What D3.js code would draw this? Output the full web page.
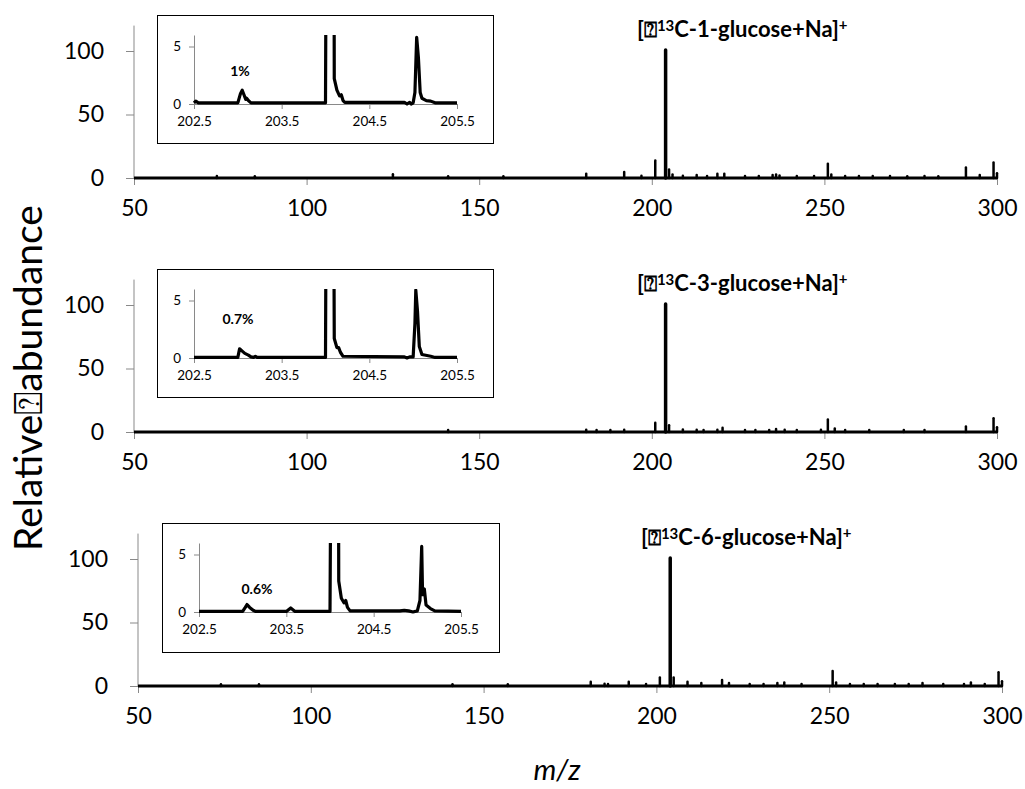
<!DOCTYPE html>
<html>
<head>
<meta charset="utf-8">
<script src="https://cdn.jsdelivr.net/npm/d3@7"></script>
<style>
  body { margin: 0; background: #fff; }
  svg text { font-family: Lato, "Open Sans", sans-serif; fill: #000; }
</style>
</head>
<body>
<svg id="chart" width="1025" height="789"></svg>
<script>
// tick values
var mainTicks = [50, 100, 150, 200, 250, 300];
var mainYTicks = [0, 50, 100];
var insetTicks = [202.5, 203.5, 204.5, 205.5];
var insetYTicks = [0, 5];

// titles / labels
var positions = ["1", "3", "6"];
var insetLabels = ["1%", "0.7%", "0.6%"];

// full spectra, peak m/z and relative abundance
var peaks1Mz  = [74, 85, 125, 141, 157, 181, 192, 197, 201, 204, 205, 206, 209, 213, 216, 219, 221, 227, 231, 235, 236, 237, 242, 247, 251, 252, 256, 260, 264, 269, 274, 279, 283, 291, 295, 299, 300];
var peaks1Int = [0.8, 0.6, 2.2, 0.6, 0.6, 2.5, 4, 1, 13, 100, 6, 2, 1, 1.5, 0.8, 2.5, 2.5, 0.8, 0.8, 1.5, 2, 1.2, 0.8, 0.8, 10.5, 2, 0.8, 0.8, 0.8, 0.8, 0.6, 0.8, 0.6, 7.5, 1.5, 11.5, 3];

var peaks2Mz  = [141, 181, 184, 188, 192, 201, 204, 205, 209, 213, 215, 219, 220.5, 227, 230, 234, 236, 238.5, 242, 249, 251, 253, 256, 263, 273, 279, 291, 299, 300];
var peaks2Int = [0.8, 1, 0.8, 0.8, 1, 6.5, 100, 4.5, 1.2, 1, 0.8, 1, 2.5, 0.8, 0.8, 0.8, 1.5, 1, 0.8, 1, 9, 2, 0.8, 0.8, 0.8, 0.8, 3.5, 10, 3];

var peaks3Mz  = [74, 85, 141, 157, 181, 185, 186, 192, 197, 201, 204, 205, 209, 213, 219, 221, 227, 231, 235, 237, 242, 251, 252, 256, 260, 264, 269, 273, 277, 283, 289, 291, 295, 299, 300];
var peaks3Int = [0.6, 0.6, 0.6, 0.5, 2.5, 1, 0.8, 2.5, 0.8, 6, 100, 6, 2.5, 1.5, 4, 1.5, 0.8, 0.8, 1.5, 2, 0.8, 11, 2, 0.8, 0.8, 0.8, 0.8, 0.8, 1.5, 0.8, 0.8, 2, 0.8, 10, 3];

// zoomed profiles 202.5 - 205.5
var inset1Mz  = [202.5, 202.52, 202.55, 203.0, 203.03, 203.05, 203.07, 203.09, 203.1, 203.12, 203.15, 204.0, 204.02, 204.05, 204.09, 204.1, 204.13, 204.16, 204.18, 204.2, 204.22, 204.9, 204.93, 204.96, 204.98, 205.0, 205.02, 205.04, 205.06, 205.08, 205.1, 205.15, 205.2, 205.25, 205.5];
var inset1Val = [0.1, 0.25, 0.1, 0.1, 0.9, 1.2, 0.8, 0.4, 0.5, 0.3, 0.1, 0.1, 40, 100, 40, 2.2, 1.2, 0.7, 0.8, 0.3, 0.15, 0.15, 0.0, 0.15, 0.0, 0.1, 1, 5.8, 4, 1, 0.5, 0.3, 0.25, 0.1, 0.1];

var inset2Mz  = [202.5, 203.0, 203.02, 203.05, 203.08, 203.12, 203.15, 203.18, 203.2, 203.22, 204.0, 204.02, 204.05, 204.08, 204.1, 204.13, 204.15, 204.17, 204.2, 204.9, 204.93, 204.96, 205.0, 205.02, 205.03, 205.05, 205.07, 205.1, 205.2, 205.25, 205.5];
var inset2Val = [0.05, 0.05, 0.8, 0.6, 0.4, 0.25, 0.1, 0.05, 0.15, 0.05, 0.05, 40, 100, 40, 1.7, 0.9, 0.9, 0.5, 0.15, 0.1, 0.0, 0.1, 0.1, 3, 5.9, 4, 1, 0.3, 0.15, 0.05, 0.05];

var inset3Mz  = [202.5, 203.0, 203.03, 203.05, 203.08, 203.12, 203.15, 203.5, 203.55, 203.6, 204.0, 204.03, 204.06, 204.09, 204.1, 204.13, 204.16, 204.18, 204.2, 204.23, 204.8, 204.85, 204.9, 204.95, 205.0, 205.03, 205.05, 205.06, 205.08, 205.1, 205.15, 205.2, 205.5];
var inset3Val = [0.05, 0.05, 0.4, 0.65, 0.4, 0.15, 0.05, 0.05, 0.35, 0.05, 0.05, 40, 100, 40, 2.7, 1.2, 0.8, 1.0, 0.4, 0.1, 0.1, 0.15, 0.1, 0.0, 0.1, 1, 5.7, 1.5, 2, 0.6, 0.3, 0.1, 0.05];

var axisGrey = "#898989";

var panels = [
  {axisY: 178, x0: 134, x1: 997, mz: peaks1Mz, val: peaks1Int,
   box: [157, 15, 493, 143], ix: [194, 457], iy: [104, 35],
   imz: inset1Mz, ival: inset1Val, lab: [240, 71], titleX: 637},
  {axisY: 432, x0: 134, x1: 997, mz: peaks2Mz, val: peaks2Int,
   box: [157, 269, 493, 397], ix: [194, 457], iy: [358, 289],
   imz: inset2Mz, ival: inset2Val, lab: [238, 319], titleX: 637},
  {axisY: 686, x0: 138, x1: 1002, mz: peaks3Mz, val: peaks3Int,
   box: [162, 523, 499, 652], ix: [199, 461], iy: [612, 543],
   imz: inset3Mz, ival: inset3Val, lab: [257, 589], titleX: 641}
];

var svg = d3.select("#chart");

panels.forEach(function(p, i) {
  var g = svg.append("g");

  var x = d3.scaleLinear().domain([50, 300]).range([p.x0, p.x1]);
  var y = d3.scaleLinear().domain([0, 100]).range([p.axisY, p.axisY - 127]);

  // y axis
  var yAxis = g.append("g")
    .attr("transform", "translate(" + p.x0 + ",0)")
    .call(d3.axisLeft(y).tickValues(mainYTicks).tickSize(8).tickPadding(22)
      .tickFormat(d3.format("d")));
  yAxis.select(".domain").attr("d", "M0," + y(0) + "V" + y(120));

  // x axis
  var xAxis = g.append("g")
    .attr("transform", "translate(0," + p.axisY + ")")
    .call(d3.axisBottom(x).tickValues(mainTicks).tickSize(7).tickSizeOuter(0).tickPadding(15));

  [yAxis, xAxis].forEach(function(a) {
    a.selectAll("path, line").attr("stroke", axisGrey);
    a.selectAll("text").style("font-size", "23px").attr("fill", "#000");
  });

  // baseline + peaks
  g.append("line")
    .attr("x1", x(50)).attr("x2", x(300))
    .attr("y1", y(0)).attr("y2", y(0))
    .attr("stroke", "#000").attr("stroke-width", 3);

  g.selectAll(".peak").data(d3.zip(p.mz, p.val)).enter()
    .append("line")
    .attr("class", "peak")
    .attr("x1", function(d) { return x(d[0]); })
    .attr("x2", function(d) { return x(d[0]); })
    .attr("y1", y(0))
    .attr("y2", function(d) { return y(d[1]) - 1; })
    .attr("stroke", "#000")
    .attr("stroke-width", function(d) { return d[1] > 50 ? 3.5 : 2.5; })
    .attr("stroke-linecap", "round");

  // title
  var t = g.append("text")
    .attr("x", p.titleX).attr("y", p.axisY - 141)
    .style("font-size", "22px").style("font-weight", "bold");
  t.append("tspan").text("[\u2370");
  t.append("tspan").text("13").style("font-size", "15px").attr("dy", -6);
  t.append("tspan").text("C-" + positions[i] + "-glucose+Na]").attr("dy", 6);
  t.append("tspan").text("+").style("font-size", "15px").attr("dy", -7);

  // inset
  var b = p.box;
  g.append("rect")
    .attr("x", b[0] + 0.5).attr("y", b[1] + 0.5)
    .attr("width", b[2] - b[0]).attr("height", b[3] - b[1])
    .attr("fill", "#fff").attr("stroke", "#000").attr("stroke-width", 1);

  var ix = d3.scaleLinear().domain([202.5, 205.5]).range(p.ix);
  var iy = d3.scaleLinear().domain([0, 6]).range(p.iy);

  var iyAxis = g.append("g")
    .attr("transform", "translate(" + p.ix[0] + ",0)")
    .call(d3.axisLeft(iy).tickValues(insetYTicks).tickSize(5).tickSizeOuter(0).tickPadding(8)
      .tickFormat(d3.format("d")));
  var ixAxis = g.append("g")
    .attr("transform", "translate(0," + p.iy[0] + ")")
    .call(d3.axisBottom(ix).tickValues(insetTicks).tickSize(5).tickSizeOuter(0).tickPadding(7)
      .tickFormat(d3.format(".1f")));
  [iyAxis, ixAxis].forEach(function(a) {
    a.selectAll("path, line").attr("stroke", axisGrey);
    a.selectAll("text").style("font-size", "13.5px").attr("fill", "#000");
  });

  var clipId = "clip" + i;
  svg.append("clipPath").attr("id", clipId)
    .append("rect")
    .attr("x", p.ix[0] - 3).attr("y", p.iy[1])
    .attr("width", p.ix[1] - p.ix[0] + 6).attr("height", p.iy[0] - p.iy[1] + 3);

  var line = d3.line()
    .x(function(d) { return ix(d[0]); })
    .y(function(d) { return iy(d[1]); });

  g.append("path")
    .datum(d3.zip(p.imz, p.ival))
    .attr("clip-path", "url(#" + clipId + ")")
    .attr("d", line)
    .attr("fill", "none")
    .attr("stroke", "#000")
    .attr("stroke-width", 3.2)
    .attr("stroke-linejoin", "round");

  g.append("text")
    .attr("x", p.lab[0]).attr("y", p.lab[1])
    .attr("text-anchor", "middle").attr("dy", "0.35em")
    .style("font-size", "14px").style("font-weight", "bold")
    .text(insetLabels[i]);
});

// axis titles
svg.append("text")
  .attr("transform", "translate(42,378) rotate(-90)")
  .attr("text-anchor", "middle")
  .style("font-size", "39px")
  .text("Relative\u2370abundance");

svg.append("text")
  .attr("x", 557).attr("y", 770)
  .attr("text-anchor", "middle").attr("dy", "0.35em")
  .style("font-size", "29px").style("font-style", "italic")
  .text("m/z");
</script>
</body>
</html>
